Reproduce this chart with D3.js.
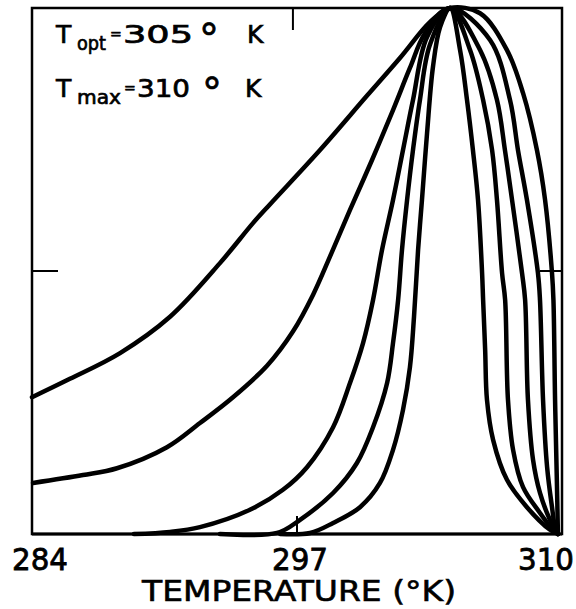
<!DOCTYPE html>
<html>
<head>
<meta charset="utf-8">
<script src="https://cdn.jsdelivr.net/npm/d3@7"></script>
<style>
  html, body { margin: 0; padding: 0; background: #fff; }
  svg { display: block; }
</style>
</head>
<body>
<div id="chart"></div>
<script>
// relative rate vs temperature, five curves, all peaking near T_opt
const curve1 = [
  [284.00, 0.260], [285.86, 0.295], [288.32, 0.344], [290.77, 0.413], [293.22, 0.515],
  [294.84, 0.591], [295.68, 0.627], [298.13, 0.730], [300.43, 0.833], [302.05, 0.905],
  [303.52, 0.973], [304.51, 1.000], [305.98, 0.990], [307.30, 0.920], [308.09, 0.838],
  [308.77, 0.730], [309.17, 0.635], [309.51, 0.496], [309.58, 0.445], [309.66, 0.255],
  [309.75, 0.097], [309.80, 0.000]
];
const curve2 = [
  [284.05, 0.097], [286.50, 0.112], [288.17, 0.125], [290.62, 0.165], [292.24, 0.211],
  [293.86, 0.260], [295.53, 0.320], [296.80, 0.385], [297.79, 0.455], [298.67, 0.532],
  [299.60, 0.616], [300.68, 0.711], [301.71, 0.806], [302.54, 0.886], [303.28, 0.952],
  [304.51, 1.000], [306.47, 0.939], [307.45, 0.825], [307.84, 0.730], [308.28, 0.635],
  [308.82, 0.496], [308.92, 0.445], [309.07, 0.255], [309.27, 0.127], [309.51, 0.051],
  [309.66, 0.013], [309.80, 0.000]
];
const curve3 = [
  [289.00, 0.000], [290.77, 0.004], [292.24, 0.013], [294.69, 0.046], [296.31, 0.084],
  [297.49, 0.127], [298.77, 0.203], [299.60, 0.287], [300.24, 0.363], [300.73, 0.445],
  [301.17, 0.540], [301.71, 0.635], [302.20, 0.730], [302.69, 0.825], [303.38, 0.945],
  [304.51, 1.000], [305.98, 0.920], [306.81, 0.825], [307.20, 0.730], [307.55, 0.635],
  [308.04, 0.496], [308.19, 0.445], [308.33, 0.255], [308.58, 0.141], [308.92, 0.078],
  [309.41, 0.027], [309.80, 0.000]
];
const curve4 = [
  [293.22, 0.000], [296.02, 0.002], [297.15, 0.027], [298.77, 0.078], [299.94, 0.135],
  [300.73, 0.203], [301.42, 0.287], [301.71, 0.363], [301.96, 0.445], [302.15, 0.540],
  [302.40, 0.635], [302.69, 0.730], [303.03, 0.825], [303.52, 0.930], [304.51, 1.000],
  [305.49, 0.920], [306.13, 0.825], [306.57, 0.730], [306.81, 0.635], [307.06, 0.496],
  [307.21, 0.445], [307.35, 0.255], [307.60, 0.160], [308.09, 0.089], [308.92, 0.040],
  [309.56, 0.008], [309.80, 0.000]
];
const curve5 = [
  [296.17, 0.000], [297.64, 0.002], [298.77, 0.021], [300.09, 0.051], [301.07, 0.097],
  [301.71, 0.160], [302.20, 0.236], [302.54, 0.317], [302.74, 0.413], [302.94, 0.540],
  [303.13, 0.635], [303.38, 0.762], [303.67, 0.888], [304.02, 0.964], [304.51, 1.000],
  [305.00, 0.920], [305.34, 0.825], [305.63, 0.730], [305.88, 0.635], [306.08, 0.496],
  [306.13, 0.445], [306.23, 0.350], [306.32, 0.255], [306.62, 0.179], [307.30, 0.103],
  [308.28, 0.051], [309.41, 0.008], [309.80, 0.000]
];
const curves = [curve1, curve2, curve3, curve4, curve5];

const xTickValues = [284, 297, 310];
const xTickLabels = ["284", "297", "310"];
const topTick = 296.8;
const yTick = 0.5;
const xTitle = "TEMPERATURE (°K)";

const width = 576, height = 609;
const margin = {top: 8, right: 14, bottom: 75, left: 32};

const svg = d3.select("#chart")
              .append("svg")
              .attr("width", width)
              .attr("height", height);

svg.append("rect")
   .attr("width", width)
   .attr("height", height)
   .attr("fill", "#fff");

const x = d3.scaleLinear()
            .domain([284, 310])
            .range([margin.left, width - margin.right]);
const y = d3.scaleLinear()
            .domain([0, 1])
            .range([height - margin.bottom, margin.top]);

// frame
svg.append("rect")
   .attr("x", x(284))
   .attr("y", y(1))
   .attr("width", x(310) - x(284))
   .attr("height", y(0) - y(1))
   .attr("fill", "none")
   .attr("stroke", "#000")
   .attr("stroke-width", 2.5);

// bottom line a bit heavier
svg.append("line")
   .attr("x1", x(284)).attr("x2", x(310))
   .attr("y1", y(0)).attr("y2", y(0))
   .attr("stroke", "#000")
   .attr("stroke-width", 3);

// tick marks, drawn inward
const tickLen = 22;
svg.append("line")
   .attr("x1", x(284)).attr("x2", x(284) + 26)
   .attr("y1", y(yTick)).attr("y2", y(yTick))
   .attr("stroke", "#000").attr("stroke-width", 2);
svg.append("line")
   .attr("x1", x(310)).attr("x2", x(310) - tickLen)
   .attr("y1", y(yTick)).attr("y2", y(yTick))
   .attr("stroke", "#000").attr("stroke-width", 2);
svg.append("line")
   .attr("x1", x(topTick)).attr("x2", x(topTick))
   .attr("y1", y(1)).attr("y2", y(1) + tickLen)
   .attr("stroke", "#000").attr("stroke-width", 2);
svg.append("line")
   .attr("x1", x(297)).attr("x2", x(297))
   .attr("y1", y(0)).attr("y2", y(0) - 18)
   .attr("stroke", "#000").attr("stroke-width", 2);

const line = d3.line()
               .x(d => x(d[0]))
               .y(d => y(d[1]))
               .curve(d3.curveCatmullRom.alpha(0.5));

svg.append("g")
   .selectAll("path")
   .data(curves)
   .join("path")
   .attr("d", line)
   .attr("fill", "none")
   .attr("stroke", "#000")
   .attr("stroke-width", 4.5)
   .attr("stroke-linejoin", "round")
   .attr("stroke-linecap", "round");

// axis labels
const font = "'DejaVu Sans', sans-serif";
svg.append("g")
   .attr("stroke", "#000")
   .attr("stroke-width", 0.8)
   .selectAll("text")
   .data(xTickValues)
   .join("text")
   .attr("x", (d, i) => x(d) + [8, 3, -16][i])
   .attr("y", 570)
   .attr("text-anchor", "middle")
   .attr("font-family", font)
   .attr("font-size", 30)
   .attr("textLength", 56)
   .attr("lengthAdjust", "spacingAndGlyphs")
   .text((d, i) => xTickLabels[i]);

svg.append("text")
   .attr("x", 299)
   .attr("y", 601)
   .attr("text-anchor", "middle")
   .attr("font-family", font)
   .attr("font-size", 28)
   .attr("stroke", "#000")
   .attr("stroke-width", 0.6)
   .attr("textLength", 314)
   .attr("lengthAdjust", "spacingAndGlyphs")
   .text(xTitle);

// annotation: T_opt and T_max
const annotations = [
  {sub: "opt", value: "305", baseline: 43, subLen: 29, eqX: 110, valX: 123, valLen: 70, degX: 199, kX: 247},
  {sub: "max", value: "310", baseline: 97, subLen: 44, eqX: 124, valX: 137, valLen: 53, degX: 202, kX: 245}
];
annotations.forEach(a => {
  const g = svg.append("g")
               .attr("font-family", font)
               .attr("fill", "#000")
               .attr("stroke", "#000")
               .attr("stroke-width", 0.7);
  g.append("text").attr("x", 56).attr("y", a.baseline).attr("font-size", 25).text("T");
  g.append("text").attr("x", 77).attr("y", a.baseline + 7).attr("font-size", 20)
   .attr("textLength", a.subLen).attr("lengthAdjust", "spacingAndGlyphs").text(a.sub);
  g.append("text").attr("x", a.eqX).attr("y", a.baseline - 4).attr("font-size", 14).text("=");
  g.append("text").attr("x", a.valX).attr("y", a.baseline).attr("font-size", 25)
   .attr("textLength", a.valLen).attr("lengthAdjust", "spacingAndGlyphs").text(a.value);
  g.append("text").attr("x", a.degX).attr("y", a.baseline + 10).attr("font-size", 40).text("°");
  g.append("text").attr("x", a.kX).attr("y", a.baseline).attr("font-size", 25).text("K");
});
</script>
</body>
</html>
